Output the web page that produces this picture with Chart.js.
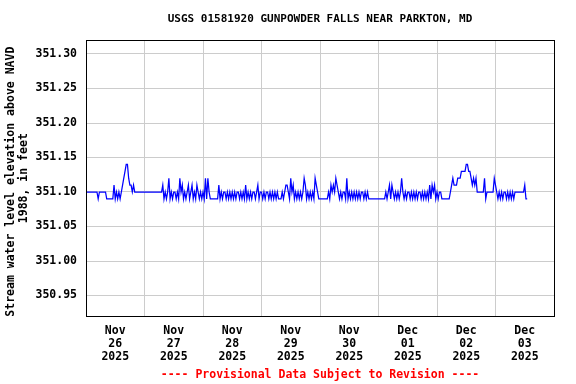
<!DOCTYPE html>
<html>
<head>
<meta charset="utf-8">
<script src="https://cdn.jsdelivr.net/npm/chart.js@4.4.0/dist/chart.umd.min.js"></script>
<style>
  html, body { margin: 0; padding: 0; background: #ffffff; }
  #wrap { width: 576px; height: 384px; }
</style>
</head>
<body>
<div id="wrap"><canvas id="myChart" width="576" height="384"></canvas></div>
<script>
const chartTitle = 'USGS 01581920 GUNPOWDER FALLS NEAR PARKTON, MD';
const yAxisTitle = ['Stream water level elevation above NAVD ', '1988, in feet'];
const footerText = '---- Provisional Data Subject to Revision ----';

// one label per day, placed at noon
const dayLabels = [
  ['Nov', '26', '2025'], ['Nov', '27', '2025'], ['Nov', '28', '2025'], ['Nov', '29', '2025'],
  ['Nov', '30', '2025'], ['Dec', '01', '2025'], ['Dec', '02', '2025'], ['Dec', '03', '2025']
];
const dayLabelHours = [12, 36, 60, 84, 108, 132, 156, 180];
const midnightHours = [0, 24, 48, 72, 96, 120, 144, 168, 192];

const yTicks = [350.95, 351.00, 351.05, 351.10, 351.15, 351.20, 351.25, 351.30];
const yTickLabels = ['350.95', '351.00', '351.05', '351.10', '351.15', '351.20', '351.25', '351.30'];

// half-hourly readings (ft), each day starts at midnight
const stepHours = 0.5;
const nov26 = [
  351.10, 351.10, 351.10, 351.10, 351.10, 351.10, 351.10, 351.10, 351.10, 351.10, 351.09, 351.10,
  351.10, 351.10, 351.10, 351.10, 351.10, 351.09, 351.09, 351.09, 351.09, 351.09, 351.09, 351.11,
  351.09, 351.10, 351.09, 351.10, 351.09, 351.10, 351.11, 351.12, 351.13, 351.14, 351.14, 351.12,
  351.11, 351.11, 351.10, 351.11, 351.10, 351.10, 351.10, 351.10, 351.10, 351.10, 351.10, 351.10
];
const nov27 = [
  351.10, 351.10, 351.10, 351.10, 351.10, 351.10, 351.10, 351.10, 351.10, 351.10, 351.10, 351.10,
  351.10, 351.10, 351.10, 351.11, 351.09, 351.10, 351.09, 351.10, 351.12, 351.09, 351.10, 351.09,
  351.10, 351.10, 351.09, 351.10, 351.09, 351.12, 351.10, 351.11, 351.09, 351.10, 351.09, 351.10,
  351.11, 351.09, 351.10, 351.11, 351.09, 351.10, 351.09, 351.11, 351.10, 351.09, 351.10, 351.09
];
const nov28 = [
  351.10, 351.09, 351.12, 351.09, 351.12, 351.10, 351.09, 351.09, 351.09, 351.09, 351.09, 351.09,
  351.09, 351.11, 351.09, 351.10, 351.09, 351.10, 351.10, 351.09, 351.10, 351.09, 351.10, 351.09,
  351.10, 351.09, 351.10, 351.09, 351.10, 351.10, 351.09, 351.10, 351.09, 351.10, 351.09, 351.11,
  351.09, 351.10, 351.09, 351.10, 351.09, 351.10, 351.10, 351.09, 351.10, 351.11, 351.09, 351.10
];
const nov29 = [
  351.10, 351.09, 351.10, 351.09, 351.10, 351.10, 351.09, 351.10, 351.09, 351.10, 351.09, 351.10,
  351.09, 351.10, 351.09, 351.09, 351.09, 351.10, 351.09, 351.10, 351.11, 351.11, 351.10, 351.09,
  351.12, 351.10, 351.11, 351.09, 351.10, 351.09, 351.10, 351.09, 351.10, 351.09, 351.10, 351.12,
  351.11, 351.09, 351.10, 351.09, 351.10, 351.09, 351.10, 351.09, 351.12, 351.11, 351.10, 351.09
];
const nov30 = [
  351.09, 351.09, 351.09, 351.09, 351.09, 351.09, 351.09, 351.10, 351.09, 351.11, 351.10, 351.11,
  351.10, 351.12, 351.11, 351.10, 351.09, 351.10, 351.09, 351.10, 351.10, 351.09, 351.12, 351.09,
  351.10, 351.09, 351.10, 351.09, 351.10, 351.09, 351.10, 351.09, 351.10, 351.09, 351.10, 351.10,
  351.09, 351.10, 351.09, 351.10, 351.09, 351.09, 351.09, 351.09, 351.09, 351.09, 351.09, 351.09
];
const dec01 = [
  351.09, 351.09, 351.09, 351.09, 351.09, 351.09, 351.10, 351.09, 351.10, 351.11, 351.09, 351.11,
  351.10, 351.09, 351.10, 351.09, 351.10, 351.09, 351.10, 351.12, 351.10, 351.09, 351.10, 351.09,
  351.10, 351.10, 351.09, 351.10, 351.09, 351.10, 351.09, 351.10, 351.09, 351.10, 351.10, 351.09,
  351.10, 351.09, 351.10, 351.09, 351.10, 351.09, 351.11, 351.09, 351.11, 351.10, 351.11, 351.09
];
const dec02 = [
  351.10, 351.09, 351.10, 351.10, 351.09, 351.09, 351.09, 351.09, 351.09, 351.09, 351.09, 351.10,
  351.11, 351.12, 351.11, 351.11, 351.11, 351.12, 351.12, 351.12, 351.13, 351.13, 351.13, 351.13,
  351.14, 351.14, 351.13, 351.13, 351.12, 351.11, 351.12, 351.11, 351.12, 351.10, 351.10, 351.10,
  351.10, 351.10, 351.10, 351.12, 351.09, 351.10, 351.10, 351.10, 351.10, 351.10, 351.10, 351.12
];
const dec03 = [
  351.11, 351.10, 351.09, 351.10, 351.09, 351.10, 351.09, 351.10, 351.10, 351.09, 351.10, 351.09,
  351.10, 351.09, 351.10, 351.09, 351.10, 351.10, 351.10, 351.10, 351.10, 351.10, 351.10, 351.10,
  351.11, 351.09, 351.09
];

const days = [nov26, nov27, nov28, nov29, nov30, dec01, dec02, dec03];
const readings = [];
days.forEach((vals, d) => {
  vals.forEach((v, i) => readings.push({ x: d * 24 + i * stepHours, y: v }));
});

const fontFamily = "'DejaVu Sans Mono', monospace";

// black box around the plot area
const frame = {
  id: 'frame',
  afterDatasetsDraw(chart) {
    const { ctx, chartArea: a } = chart;
    ctx.save();
    ctx.strokeStyle = '#000000';
    ctx.lineWidth = 1;
    ctx.strokeRect(Math.round(a.left) + 0.5, Math.round(a.top) + 0.5,
      Math.round(a.right - a.left), Math.round(a.bottom - a.top));
    ctx.restore();
  }
};

const ctx = document.getElementById('myChart').getContext('2d');
const myChart = new Chart(ctx, {
  type: 'line',
  data: {
    datasets: [{
      data: readings,
      borderColor: '#0000ff',
      borderWidth: 1.25,
      pointRadius: 0,
      tension: 0,
      fill: false
    }]
  },
  options: {
    responsive: false,
    animation: false,
    layout: { padding: { left: 0, right: 22, top: 0, bottom: 0 } },
    scales: {
      x: {
        type: 'linear',
        min: 0,
        max: 192,
        afterBuildTicks: scale => {
          scale.ticks = midnightHours.concat(dayLabelHours).sort((a, b) => a - b).map(v => ({ value: v }));
        },
        afterFit: scale => { scale.height = 52; },
        border: { display: false },
        grid: {
          drawTicks: false,
          lineWidth: 1,
          color: c => (c.tick && midnightHours.includes(c.tick.value)) ? '#cccccc' : 'rgba(0,0,0,0)'
        },
        ticks: {
          autoSkip: false,
          maxRotation: 0,
          padding: 8,
          color: '#000000',
          font: { family: fontFamily, size: 11.5, weight: 'bold', lineHeight: 1.13 },
          callback: value => {
            const i = dayLabelHours.indexOf(value);
            return i >= 0 ? dayLabels[i] : '';
          }
        }
      },
      y: {
        min: 350.92,
        max: 351.32,
        afterBuildTicks: scale => { scale.ticks = yTicks.map(v => ({ value: v })); },
        afterFit: scale => { scale.width = 86; },
        border: { display: false },
        grid: { drawTicks: false, color: '#cccccc', lineWidth: 1 },
        ticks: {
          padding: 9,
          color: '#000000',
          font: { family: fontFamily, size: 11.5, weight: 'bold' },
          callback: (value, index) => yTickLabels[index]
        },
        title: {
          display: true,
          text: yAxisTitle,
          color: '#000000',
          font: { family: fontFamily, size: 11.5, weight: 'bold', lineHeight: 1.13 },
          padding: { top: 5, bottom: 0 }
        }
      }
    },
    plugins: {
      legend: { display: false },
      tooltip: { enabled: false },
      title: {
        display: true,
        fullSize: false,
        text: chartTitle,
        color: '#000000',
        font: { family: fontFamily, size: 11, weight: 'bold', lineHeight: 1.2 },
        padding: { top: 13, bottom: 14 }
      },
      subtitle: {
        display: true,
        position: 'bottom',
        fullSize: false,
        text: footerText,
        color: '#ff0000',
        font: { family: fontFamily, size: 11.5, weight: 'bold', lineHeight: 1.2 },
        padding: { top: 0, bottom: 2 }
      }
    }
  },
  plugins: [frame]
});
</script>
</body>
</html>
